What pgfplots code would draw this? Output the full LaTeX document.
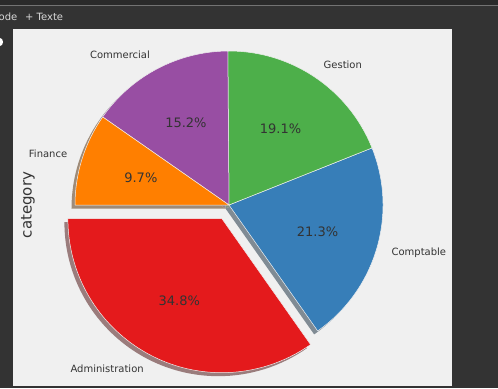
\documentclass[border=0pt]{standalone}
\usepackage{pgfplots}
\pgfplotsset{compat=1.18}
\usepackage{pgfplotstable}
\usepackage{fontspec}
\setmainfont{DejaVu Sans}
\definecolor{bgc}{HTML}{F0F0F0}
\definecolor{darkbg}{HTML}{333333}
\definecolor{topbg}{HTML}{2A2A2A}
\definecolor{txt}{HTML}{333333}
\definecolor{cA}{HTML}{E41A1C}
\definecolor{cB}{HTML}{377EB8}
\definecolor{cC}{HTML}{4DAF4A}
\definecolor{cD}{HTML}{984EA3}
\definecolor{cE}{HTML}{FF7F00}

\pgfplotstableread{
label pct explode col
Administration 34.8 0.1 cA
Comptable 21.3 0 cB
Gestion 19.1 0 cC
Commercial 15.2 0 cD
Finance 9.7 0 cE
}\piedata

\def\pieR{154}
\def\cx{229}
\def\cy{183}
\def\shd{3.5}

\def\total{0}
\pgfplotsforeachungrouped \i in {0,...,4}{%
  \pgfplotstablegetelem{\i}{pct}\of\piedata
  \pgfmathsetmacro\total{\total+\pgfplotsretval}%
}
\def\curang{180}
\pgfplotsforeachungrouped \i in {0,...,4}{%
  \pgfplotstablegetelem{\i}{pct}\of\piedata \let\p\pgfplotsretval
  \pgfplotstablegetelem{\i}{explode}\of\piedata \let\ex\pgfplotsretval
  \pgfplotstablegetelem{\i}{col}\of\piedata \let\cc\pgfplotsretval
  \pgfplotstablegetelem{\i}{label}\of\piedata \let\ll\pgfplotsretval
  \pgfmathsetmacro\a{\curang}%
  \pgfmathsetmacro\b{\curang+360*\p/\total}%
  \pgfmathsetmacro\m{(\a+\b)/2}%
  \pgfmathsetmacro\ox{\cx+\ex*\pieR*cos(\m)}%
  \pgfmathsetmacro\oy{\cy+\ex*\pieR*sin(\m)}%
  \pgfmathsetmacro\sx{\ox-\shd}%
  \pgfmathsetmacro\sy{\oy-\shd}%
  \pgfmathsetmacro\lx{\ox+1.1*\pieR*cos(\m)}%
  \pgfmathsetmacro\ly{\oy+1.1*\pieR*sin(\m)}%
  \pgfmathsetmacro\px{\ox+0.6*\pieR*cos(\m)}%
  \pgfmathsetmacro\py{\oy+0.6*\pieR*sin(\m)}%
  \pgfmathsetmacro\cm{cos(\m)}%
  \ifdim\cm pt>0pt \def\anc{west}\else\def\anc{east}\fi
  \expandafter\xdef\csname pA\i\endcsname{\a}%
  \expandafter\xdef\csname pB\i\endcsname{\b}%
  \expandafter\xdef\csname pX\i\endcsname{\ox}%
  \expandafter\xdef\csname pY\i\endcsname{\oy}%
  \expandafter\xdef\csname pSX\i\endcsname{\sx}%
  \expandafter\xdef\csname pSY\i\endcsname{\sy}%
  \expandafter\xdef\csname pLX\i\endcsname{\lx}%
  \expandafter\xdef\csname pLY\i\endcsname{\ly}%
  \expandafter\xdef\csname pPX\i\endcsname{\px}%
  \expandafter\xdef\csname pPY\i\endcsname{\py}%
  \expandafter\xdef\csname pAnc\i\endcsname{\anc}%
  \expandafter\xdef\csname pC\i\endcsname{\cc}%
  \expandafter\xdef\csname pL\i\endcsname{\ll}%
  \expandafter\xdef\csname pP\i\endcsname{\p}%
  \let\curang\b
}

\begin{document}
\begin{tikzpicture}
\begin{axis}[
  x=1bp, y=1bp,
  xmin=0, xmax=498, ymin=0, ymax=388,
  hide axis,
  clip=true,
  /pgf/number format/assume math mode=true,
]
% dark surroundings
\fill[darkbg] (axis cs:0,0) rectangle (axis cs:498,388);
\fill[topbg] (axis cs:0,383) rectangle (axis cs:498,388);
\draw[black!55, line width=0.8bp] (axis cs:0,382.6) -- (axis cs:498,382.6);
\node[anchor=west, text=white!85!black, font=\fontsize{10bp}{12bp}\selectfont, inner sep=0pt] at (axis cs:-1.5,371) {ode};
\node[anchor=west, text=white!85!black, font=\fontsize{10bp}{12bp}\selectfont, inner sep=0pt] at (axis cs:25,371) {+ Texte};
\fill[white] (axis cs:0,342) arc[start angle=-90, end angle=90, x radius=3bp, y radius=4bp] -- cycle;
% figure area
\fill[bgc] (axis cs:13,2) rectangle (axis cs:452,359);
% shadows
\pgfplotsinvokeforeach{0,...,4}{
  \fill[\csname pC#1\endcsname!30!black!50!bgc]
    (axis cs:\csname pSX#1\endcsname,\csname pSY#1\endcsname)
    -- ++(\csname pA#1\endcsname:\pieR bp)
    arc[start angle=\csname pA#1\endcsname, end angle=\csname pB#1\endcsname, radius=\pieR bp]
    -- cycle;
}
% wedges
\pgfplotsinvokeforeach{0,...,4}{
  \filldraw[fill=\csname pC#1\endcsname, draw=bgc, line width=0.5bp, line join=round]
    (axis cs:\csname pX#1\endcsname,\csname pY#1\endcsname)
    -- ++(\csname pA#1\endcsname:\pieR bp)
    arc[start angle=\csname pA#1\endcsname, end angle=\csname pB#1\endcsname, radius=\pieR bp]
    -- cycle;
}
% labels
\pgfplotsinvokeforeach{0,...,4}{
  \node[anchor=\csname pAnc#1\endcsname, text=txt, inner sep=0pt,
        font=\fontsize{10bp}{12bp}\selectfont]
    at (axis cs:\csname pLX#1\endcsname,\csname pLY#1\endcsname) {\csname pL#1\endcsname};
  \node[text=txt, inner sep=0pt, font=\fontsize{13bp}{15bp}\selectfont]
    at (axis cs:\csname pPX#1\endcsname,\csname pPY#1\endcsname)
    {\pgfmathprintnumber[fixed,precision=1,fixed zerofill,assume math mode=true]{\csname pP#1\endcsname}\%};
}
\node[rotate=90, text=txt, inner sep=0pt, font=\fontsize{15bp}{18bp}\selectfont]
  at (axis cs:28,183) {category};
\end{axis}
\end{tikzpicture}
\end{document}
